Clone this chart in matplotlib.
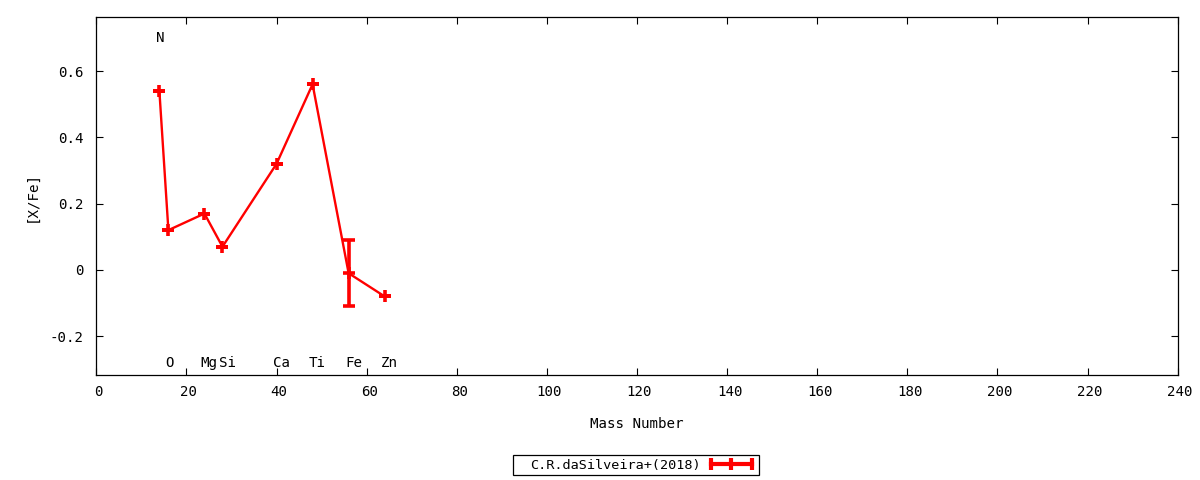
import matplotlib
matplotlib.use("Agg")
import matplotlib.pyplot as plt
from matplotlib.lines import Line2D
from matplotlib.patches import Rectangle
from matplotlib.legend_handler import HandlerLine2D
import matplotlib.transforms as mtransforms

elements = ["N", "O", "Mg", "Si", "Ca", "Ti", "Fe", "Zn"]
mass = [14, 16, 24, 28, 40, 48, 56, 64]
xfe = [0.54, 0.12, 0.17, 0.07, 0.32, 0.56, -0.01, -0.08]
err = [0.0, 0.0, 0.0, 0.0, 0.0, 0.0, 0.10, 0.0]
label_y = [0.70, -0.28, -0.28, -0.28, -0.28, -0.28, -0.28, -0.28]
xticks = [0, 20, 40, 60, 80, 100, 120, 140, 160, 180, 200, 220, 240]
yticks = [-0.2, 0, 0.2, 0.4, 0.6]
ytick_labels = ["-0.2", "0", "0.2", "0.4", "0.6"]
series_name = "C.R.daSilveira+(2018)"

RED = '#ff0000'
plt.rcParams['font.family'] = ['DejaVu Sans Mono']
plt.rcParams['font.size'] = 10.2

W, H = 1200, 480
fig = plt.figure(figsize=(12, 4.8), dpi=100)
ax = fig.add_axes([96.3/W, 1-375/H, (1177.7-96.3)/W, (375-17)/H])

ax.errorbar(mass, xfe, yerr=err, color=RED, lw=1.7, marker='+', ms=9, mew=2.6,
            elinewidth=2.6, capsize=4, capthick=2.6)

for el, m, ly in zip(elements, mass, label_y):
    ax.text(m - 0.8, ly, el, ha='left', va='center')

ax.set_xlim(0, 240)
ax.set_ylim(-0.317, 0.763)
ax.set_xticks(xticks)
ax.set_xticklabels([str(t) for t in xticks])
ax.set_yticks(yticks)
ax.set_yticklabels(ytick_labels)
ax.tick_params(direction='in', top=True, right=True, length=5, width=0.8)
ax.tick_params(axis='x', pad=7)
ax.tick_params(axis='y', pad=9)
offset = mtransforms.ScaledTranslation(2.5/100, 0, fig.dpi_scale_trans)
for lab in ax.get_xticklabels():
    lab.set_transform(lab.get_transform() + offset)
ax.set_xlabel("Mass Number", labelpad=13)
ax.set_ylabel("[X/Fe]", labelpad=8)
for s in ax.spines.values():
    s.set_linewidth(0.9)

# legend box (gnuplot style key below the plot)
fig.patches.append(Rectangle((513/W, 1-475/H), (759-513)/W, 20/H, transform=fig.transFigure,
                             fill=False, edgecolor='black', lw=0.9))
line_h = Line2D([], [], color=RED, lw=3.0, marker='|', ms=8, mew=3.0)
center_h = Line2D([], [], color=RED, lw=0, marker='|', ms=8, mew=3.0)
leg = fig.legend(handles=[(line_h, center_h)], labels=[series_name], loc='center',
                 bbox_to_anchor=(643/W, 1-465/H), prop={'size': 9.7},
                 handler_map={line_h: HandlerLine2D(numpoints=2), center_h: HandlerLine2D(numpoints=1)},
                 markerfirst=False, frameon=False,
                 handlelength=3.6, borderpad=0.2, handletextpad=0.45, borderaxespad=0)

fig.savefig("out.png", dpi=100)
